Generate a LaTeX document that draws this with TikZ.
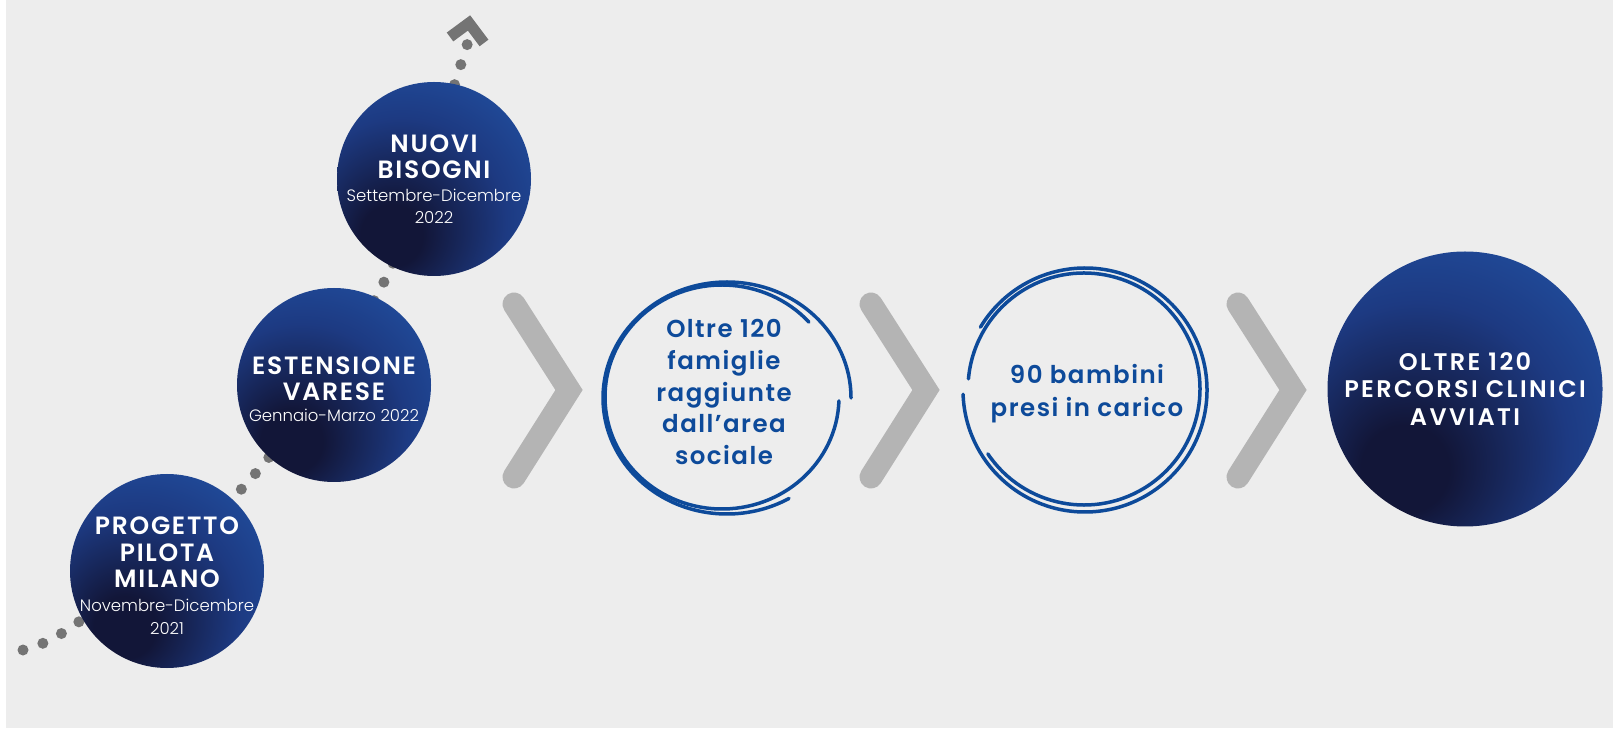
\documentclass[tikz,border=0pt]{standalone}
\usepackage{fontspec}
\IfFontExistsTF{Poppins SemiBold}{\setmainfont{Poppins}[BoldFont={Poppins SemiBold}]}{\setmainfont{Poppins}}
\IfFontExistsTF{Poppins Light}{\newfontfamily\datefamily{Poppins Light}}{\newfontfamily\datefamily{Poppins}}
\usetikzlibrary{positioning, calc}
\definecolor{bggray}{HTML}{EDEDED}
\definecolor{chevgray}{HTML}{B4B4B4}
\definecolor{dotgray}{HTML}{747474}
\definecolor{ringblue}{HTML}{0D4A9A}
\definecolor{balltop}{HTML}{2255A8}
\definecolor{ballmid}{HTML}{1D3A82}
\definecolor{ballbot}{HTML}{121638}
\pgfdeclareradialshading{sphere}{\pgfpoint{-12bp}{-16bp}}{color(0bp)=(ballbot); color(8bp)=(ballbot); color(27bp)=(ballmid); color(46bp)=(balltop); color(90bp)=(balltop)}
\newcommand{\balltitle}{\fontsize{25}{26.5}\selectfont\bfseries\addfontfeature{LetterSpace=7}}
\newcommand{\balldate}{\fontsize{16.5}{22}\selectfont\datefamily\mdseries}
\tikzset{ball/.style={circle, minimum size=194pt, inner sep=0pt, shade, shading=sphere},
	bigball/.style={ball, minimum size=275pt},
	balltext/.style={text=white, align=center, font=\balltitle},
	bigtext/.style={balltext, font=\fontsize{24}{27.5}\selectfont\bfseries\addfontfeature{LetterSpace=10}},
	ringtext/.style={text=ringblue, align=center, font=\fontsize{24.5}{31.7}\selectfont\bfseries\addfontfeature{LetterSpace=6}},
	ring/.style={draw=ringblue, line width=3.5pt, line cap=round},
	chevron/.style={draw=chevgray, line width=23pt, line cap=round, miter limit=10},
	dots/.style={draw=dotgray, line width=11pt, line cap=round, dash pattern=on 0pt off 21pt},}

\begin{document}
\begin{tikzpicture}[x=1pt, y=1pt]
		% Background
		\useasboundingbox (0,0) rectangle (1613,728);
		\fill[white] (0,0) rectangle (1613,728);
		\fill[bggray] (6,0) rectangle (1613,728);
		% Chevrons
		\foreach \dx in {0,357,724}
			\draw[chevron] (514+\dx,424) -- (569+\dx,338) -- (514+\dx,251);
		% Timeline
		\coordinate (start) at (23,78);
		\coordinate (tip) at (469,705);
		\draw[dots] plot[smooth, tension=0.55] coordinates {(start) (80,107) (248,246) (385,448) (462,667) (466,689)};
		\draw[dotgray, line width=11pt, miter limit=10] ($(tip)+(-19,-14)$) -- (tip) -- ($(tip)+(15,-20)$);
		% Stages
		\node[ball, label={[balltext, yshift=-5pt]center:{PROGETTO\\PILOTA\\MILANO\\[-2.5pt]{\balldate Novembre-Dicembre}\\[-3.5pt]{\balldate 2021}}}] (pilota) at (167,157) {};
		\node[ball, label={[balltext, yshift=-4pt]center:{ESTENSIONE\\VARESE\\[-5.5pt]{\balldate Gennaio-Marzo 2022}}}] (varese) at (334,343) {};
		\node[ball, label={[balltext]center:{NUOVI\\BISOGNI\\[-3.5pt]{\balldate Settembre-Dicembre}\\[-4.5pt]{\balldate 2022}}}] (bisogni) at (434,549) {};
		% Results
		\node[ringtext] (famiglie) at (724,336) {Oltre 120\\famiglie\\raggiunte\\dall’area\\sociale};
		\node[ringtext] (bambini) at (1087,334) {90 bambini\\[1.5pt]presi in carico};
		\node[bigball, label={[bigtext]center:{OLTRE 120\\PERCORSI CLINICI\\AVVIATI}}] (avviati) at (1465,339) {};
		% Rings
		\draw[ring] (727,330) ++(0:124 and 116) arc[start angle=0, end angle=300, x radius=124pt, y radius=116pt];
		\draw[ring] (722,331) ++(358:117 and 112) arc[start angle=358, end angle=42, x radius=117pt, y radius=112pt];
		\draw[ring] (1085,338) ++(182:122) arc[start angle=182, end angle=509, radius=122pt];
		\draw[ring] (1084,339) ++(214:116) arc[start angle=214, end angle=535, radius=116pt];
	\end{tikzpicture}
\end{document}
